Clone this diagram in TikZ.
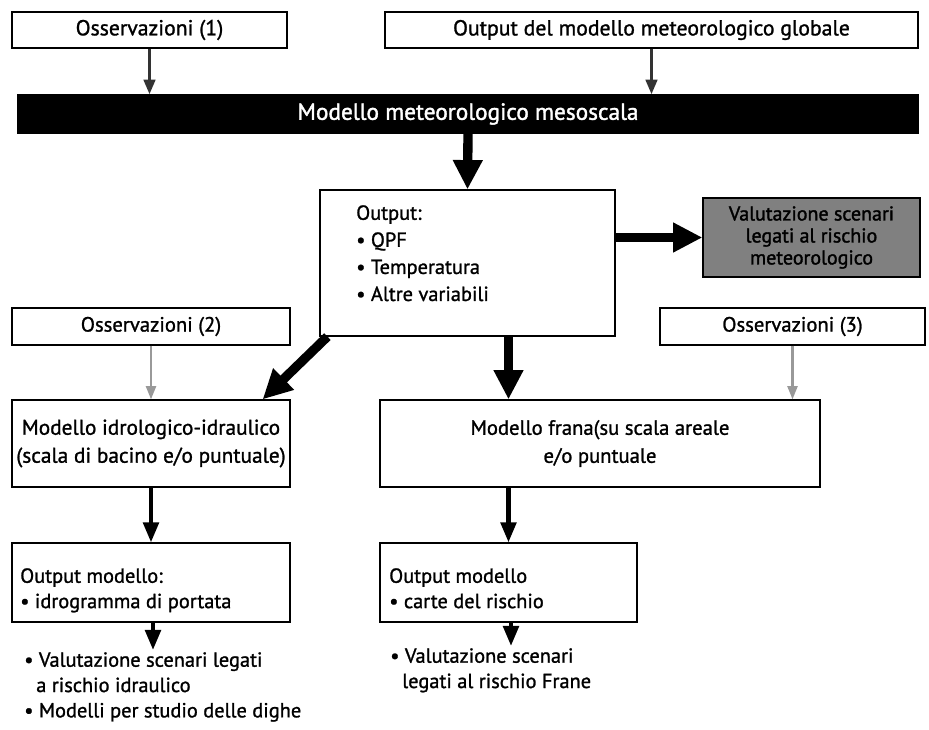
\documentclass[tikz,border=0pt]{standalone}
\usepackage{fontspec}
\setmainfont{PT Sans}[FakeBold=1.2]
\newfontfamily\strongfont{PT Sans}[FakeBold=1.6]
\usetikzlibrary{arrows.meta,calc}
\tikzset{
  box/.style={draw=black, line width=0.9pt, rectangle, inner sep=0pt, font=\fontsize{15.5}{18}\selectfont, align=center},
  thickarr/.style={line width=7pt, -{Triangle[length=22pt,width=21pt]}},
  medarr/.style={line width=3.2pt, -{Triangle[length=15pt,width=11.5pt]}},
  thinarr/.style={draw=black!80, line width=2.4pt, -{Triangle[length=11pt,width=8.5pt]}},
  lightarr/.style={draw=black!40, line width=1.8pt, -{Triangle[length=10pt,width=7.5pt]}},
  txt/.style={font=\fontsize{15.3}{19}\selectfont, align=left, inner sep=0pt}
}
\begin{document}
\begin{tikzpicture}[x=0.75pt,y=-0.75pt]
\useasboundingbox (0,0) rectangle (929,730);
\node[box, minimum width=275*0.75pt, minimum height=36*0.75pt, font=\fontsize{16.3}{18}\selectfont] (oss1) at (149.5,30) {Osservazioni (1)};
\node[box, minimum width=533*0.75pt, minimum height=36*0.75pt, font=\fontsize{16.3}{18}\selectfont] (glob) at (651.5,30) {Output del modello meteorologico globale};
\node[box, fill=black, text=white, minimum width=900*0.75pt, minimum height=38*0.75pt, font=\strongfont\fontsize{17.5}{20}\selectfont] (meso) at (468,114) {Modello meteorologico mesoscala};
\node[box, minimum width=295*0.75pt, minimum height=146*0.75pt] (out) at (467.5,263) {};
\node[txt, anchor=north west, font=\fontsize{15.3}{20.3}\selectfont] (outtxt) at (356,205) {Output:\\ • QPF\\ • Temperatura\\ • Altre variabili};
\node[box, fill=black!50, minimum width=217*0.75pt, minimum height=79*0.75pt, font=\strongfont\fontsize{15}{16.5}\selectfont] (val) at (811.5,237.5) {Valutazione scenari\\ legati al rischio\\ meteorologico};
\node[box, minimum width=278*0.75pt, minimum height=37*0.75pt] (oss2) at (151,326.5) {Osservazioni (2)};
\node[box, minimum width=265*0.75pt, minimum height=37*0.75pt] (oss3) at (792.5,326.5) {Osservazioni (3)};
\node[box, minimum width=278*0.75pt, minimum height=87*0.75pt, font=\fontsize{16}{21}\selectfont] (idro) at (151,443.5) {Modello idrologico-idraulico\\ (scala di bacino e/o puntuale)};
\node[box, minimum width=440*0.75pt, minimum height=87*0.75pt, font=\fontsize{15.5}{21}\selectfont] (frana) at (600,443.5) {Modello frana(su scala areale\\ e/o puntuale};
\node[box, minimum width=278*0.75pt, minimum height=79*0.75pt] (outl) at (151,582.5) {};
\node[txt, anchor=north west] (outltxt) at (20,568) {Output modello:\\ • idrogramma di portata};
\node[box, minimum width=257*0.75pt, minimum height=79*0.75pt] (outr) at (508.5,582.5) {};
\node[txt, anchor=north west] (outrtxt) at (389,568) {Output modello\\ • carte del rischio};
\node[txt, anchor=north west] (bl) at (24,652) {• Valutazione scenari legati\\ \hspace*{9pt}a rischio idraulico\\ • Modelli per studio delle dighe};
\node[txt, anchor=north west] (br) at (390,648) {• Valutazione scenari\\ \hspace*{9pt}legati al rischio Frane};
\coordinate (blt) at (153,650);
\coordinate (brt) at (511,646);
% arrows
\draw[thinarr] (oss1.south) -- (oss1.south |- meso.north);
\draw[thinarr] (glob.south) -- (glob.south |- meso.north);
\draw[thickarr] (meso.south) -- (out.north);
\draw[thickarr] (out.east |- val.west) -- (val.west);
\draw[thickarr] ($(out.south west)+(8,0)$) -- ($(idro.north east)+(-28,0)$);
\draw[thickarr] (out.south -| outr.north) -- (frana.north -| outr.north);
\draw[lightarr] (oss2.south) -- (oss2.south |- idro.north);
\draw[lightarr] (oss3.south) -- (oss3.south |- frana.north);
\draw[medarr] (idro.south) -- (outl.north);
\draw[medarr] (frana.south -| outr.north) -- (outr.north);
\draw[medarr] (outl.south -| blt) -- (blt);
\draw[medarr] (outr.south -| brt) -- (brt);
\end{tikzpicture}
\end{document}
